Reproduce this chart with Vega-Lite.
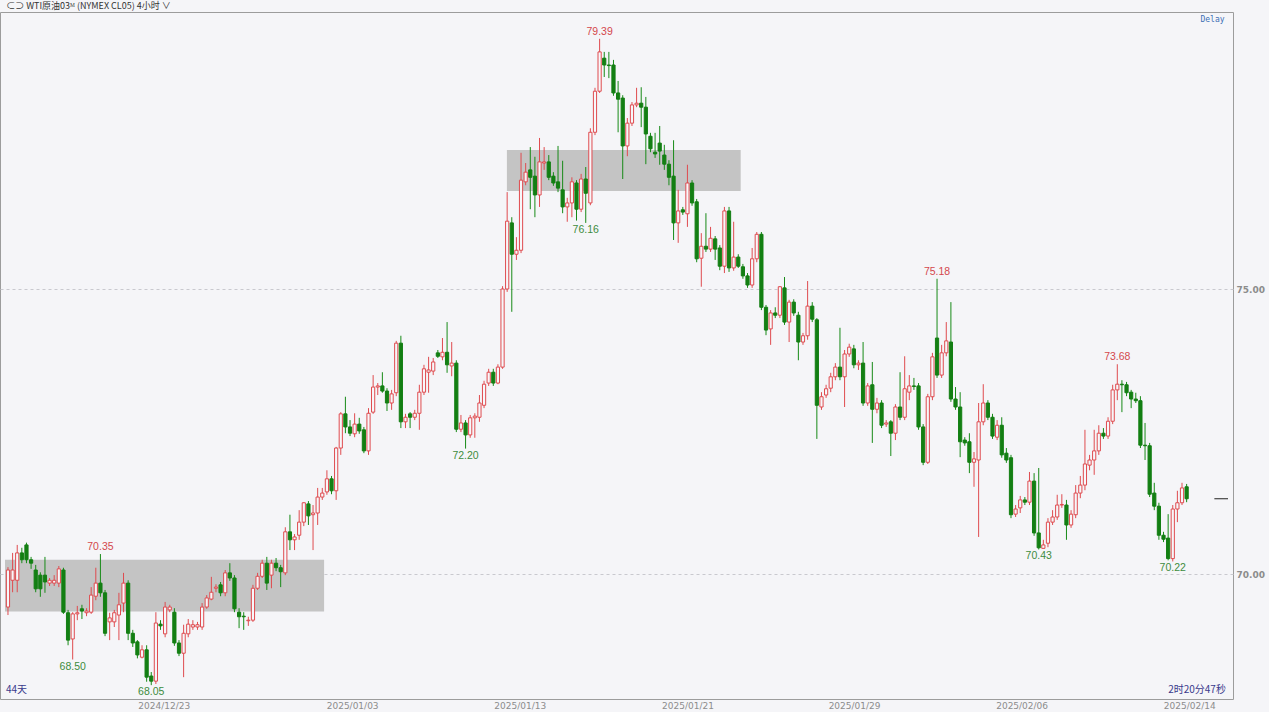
{
"$schema":"https://vega.github.io/schema/vega-lite/v6.json",
"width":1233,"height":687,
"autosize":{"type":"none"},
"padding":{"left":0,"top":12,"right":36,"bottom":13},
"background":"#f5f5f8",
"config":{"view":{"stroke":"#9c9c9c","strokeWidth":1},"font":"Liberation Sans"},
"datasets":{
"k":[
{"i":1,"o":69.42,"h":70.12,"l":69.28,"c":70.07},
{"i":2,"o":69.89,"h":70.37,"l":69.68,"c":70.07},
{"i":3,"o":69.89,"h":70.51,"l":69.68,"c":70.37},
{"i":4,"o":70.37,"h":70.46,"l":70.19,"c":70.25},
{"i":5,"o":70.51,"h":70.55,"l":70.19,"c":70.25},
{"i":6,"o":70.25,"h":70.30,"l":70.09,"c":70.19},
{"i":7,"o":70.07,"h":70.16,"l":69.68,"c":69.74},
{"i":8,"o":69.98,"h":70.03,"l":69.60,"c":69.74},
{"i":9,"o":69.98,"h":70.30,"l":69.67,"c":69.86},
{"i":10,"o":69.84,"h":69.93,"l":69.79,"c":69.89},
{"i":11,"o":69.84,"h":69.98,"l":69.79,"c":69.89},
{"i":12,"o":69.84,"h":70.14,"l":69.77,"c":70.09},
{"i":13,"o":70.07,"h":70.11,"l":69.30,"c":69.33},
{"i":14,"o":69.32,"h":69.37,"l":68.75,"c":68.84},
{"i":15,"o":68.86,"h":69.33,"l":68.50,"c":69.30},
{"i":16,"o":69.30,"h":69.44,"l":69.19,"c":69.32},
{"i":17,"o":69.39,"h":69.46,"l":69.21,"c":69.35},
{"i":18,"o":69.32,"h":69.40,"l":69.26,"c":69.35},
{"i":19,"o":69.33,"h":69.77,"l":69.30,"c":69.63},
{"i":20,"o":69.61,"h":70.11,"l":69.54,"c":69.84},
{"i":21,"o":69.84,"h":70.35,"l":69.60,"c":69.67},
{"i":22,"o":69.67,"h":69.72,"l":68.91,"c":68.96},
{"i":23,"o":69.16,"h":69.32,"l":68.84,"c":69.23},
{"i":24,"o":69.16,"h":69.37,"l":69.07,"c":69.32},
{"i":25,"o":69.28,"h":69.67,"l":68.84,"c":69.46},
{"i":26,"o":69.49,"h":70.02,"l":69.33,"c":69.84},
{"i":27,"o":69.84,"h":69.89,"l":68.84,"c":68.96},
{"i":28,"o":68.96,"h":69.02,"l":68.72,"c":68.79},
{"i":29,"o":68.81,"h":68.84,"l":68.52,"c":68.58},
{"i":30,"o":68.54,"h":68.75,"l":68.52,"c":68.67},
{"i":31,"o":68.67,"h":68.75,"l":68.11,"c":68.19},
{"i":32,"o":68.21,"h":68.28,"l":68.05,"c":68.12},
{"i":33,"o":68.12,"h":69.33,"l":68.07,"c":69.14},
{"i":34,"o":69.12,"h":69.19,"l":69.02,"c":69.09},
{"i":35,"o":68.95,"h":69.51,"l":68.89,"c":69.42},
{"i":36,"o":69.37,"h":69.46,"l":69.33,"c":69.42},
{"i":37,"o":69.33,"h":69.40,"l":68.74,"c":68.79},
{"i":38,"o":68.79,"h":68.84,"l":68.56,"c":68.61},
{"i":39,"o":68.61,"h":69.11,"l":68.19,"c":68.96},
{"i":40,"o":68.95,"h":69.21,"l":68.89,"c":69.12},
{"i":41,"o":69.07,"h":69.19,"l":69.02,"c":69.11},
{"i":42,"o":69.07,"h":69.16,"l":69.02,"c":69.11},
{"i":43,"o":69.07,"h":69.49,"l":69.02,"c":69.42},
{"i":44,"o":69.42,"h":69.63,"l":69.39,"c":69.58},
{"i":45,"o":69.56,"h":69.95,"l":69.54,"c":69.68},
{"i":46,"o":69.75,"h":69.82,"l":69.68,"c":69.77},
{"i":47,"o":69.81,"h":69.86,"l":69.61,"c":69.67},
{"i":48,"o":69.67,"h":70.07,"l":69.61,"c":70.02},
{"i":49,"o":70.02,"h":70.19,"l":69.88,"c":69.93},
{"i":50,"o":69.93,"h":69.98,"l":69.33,"c":69.39},
{"i":51,"o":69.33,"h":69.40,"l":69.05,"c":69.25},
{"i":52,"o":69.26,"h":69.33,"l":69.02,"c":69.25},
{"i":53,"o":69.18,"h":69.25,"l":69.09,"c":69.19},
{"i":54,"o":69.19,"h":69.81,"l":69.16,"c":69.75},
{"i":55,"o":69.75,"h":70.02,"l":69.72,"c":69.96},
{"i":56,"o":69.96,"h":70.25,"l":69.93,"c":70.19},
{"i":57,"o":70.19,"h":70.30,"l":69.72,"c":69.84},
{"i":58,"o":69.98,"h":70.25,"l":69.75,"c":70.19},
{"i":59,"o":70.19,"h":70.28,"l":70.05,"c":70.11},
{"i":60,"o":70.11,"h":70.16,"l":69.77,"c":70.04},
{"i":61,"o":70.02,"h":70.82,"l":69.98,"c":70.74},
{"i":62,"o":70.74,"h":71.04,"l":70.42,"c":70.60},
{"i":63,"o":70.60,"h":70.70,"l":70.42,"c":70.65},
{"i":64,"o":70.68,"h":71.12,"l":70.60,"c":70.91},
{"i":65,"o":70.91,"h":71.26,"l":70.84,"c":71.25},
{"i":66,"o":71.23,"h":71.28,"l":70.86,"c":71.02},
{"i":67,"o":71.04,"h":71.21,"l":70.42,"c":71.07},
{"i":68,"o":71.07,"h":71.51,"l":70.86,"c":71.35},
{"i":69,"o":71.35,"h":71.51,"l":71.30,"c":71.42},
{"i":70,"o":71.44,"h":71.82,"l":71.39,"c":71.67},
{"i":71,"o":71.67,"h":71.72,"l":71.40,"c":71.46},
{"i":72,"o":71.46,"h":72.23,"l":71.30,"c":72.21},
{"i":73,"o":72.21,"h":72.84,"l":72.09,"c":72.81},
{"i":74,"o":72.81,"h":73.11,"l":72.47,"c":72.58},
{"i":75,"o":72.58,"h":72.70,"l":72.42,"c":72.47},
{"i":76,"o":72.46,"h":72.82,"l":72.40,"c":72.63},
{"i":77,"o":72.63,"h":72.74,"l":72.46,"c":72.51},
{"i":78,"o":72.53,"h":72.58,"l":72.12,"c":72.16},
{"i":79,"o":72.16,"h":72.91,"l":72.09,"c":72.82},
{"i":80,"o":72.84,"h":73.49,"l":72.81,"c":73.28},
{"i":81,"o":73.28,"h":73.35,"l":73.14,"c":73.30},
{"i":82,"o":73.30,"h":73.54,"l":73.18,"c":73.21},
{"i":83,"o":73.21,"h":73.26,"l":72.86,"c":73.00},
{"i":84,"o":73.00,"h":73.23,"l":72.88,"c":73.16},
{"i":85,"o":73.18,"h":74.09,"l":73.12,"c":74.05},
{"i":86,"o":74.05,"h":74.18,"l":72.56,"c":72.67},
{"i":87,"o":72.67,"h":72.81,"l":72.56,"c":72.75},
{"i":88,"o":72.81,"h":72.84,"l":72.56,"c":72.75},
{"i":89,"o":72.75,"h":72.88,"l":72.70,"c":72.82},
{"i":90,"o":72.82,"h":73.32,"l":72.53,"c":73.19},
{"i":91,"o":73.19,"h":73.67,"l":73.14,"c":73.60},
{"i":92,"o":73.54,"h":73.81,"l":73.18,"c":73.58},
{"i":93,"o":73.56,"h":73.79,"l":73.49,"c":73.72},
{"i":94,"o":73.88,"h":73.93,"l":73.79,"c":73.82},
{"i":95,"o":73.81,"h":74.14,"l":73.75,"c":73.89},
{"i":96,"o":73.89,"h":74.42,"l":73.53,"c":73.67},
{"i":97,"o":73.65,"h":74.07,"l":73.47,"c":73.70},
{"i":98,"o":73.70,"h":73.75,"l":72.49,"c":72.54},
{"i":99,"o":72.54,"h":72.79,"l":72.49,"c":72.65},
{"i":100,"o":72.65,"h":72.70,"l":72.20,"c":72.44},
{"i":101,"o":72.44,"h":72.79,"l":72.39,"c":72.74},
{"i":102,"o":72.74,"h":72.82,"l":72.39,"c":72.77},
{"i":103,"o":72.75,"h":73.14,"l":72.67,"c":73.00},
{"i":104,"o":72.96,"h":73.39,"l":72.91,"c":73.33},
{"i":105,"o":73.35,"h":73.60,"l":73.30,"c":73.54},
{"i":106,"o":73.54,"h":73.60,"l":73.30,"c":73.35},
{"i":107,"o":73.35,"h":73.68,"l":73.33,"c":73.63},
{"i":108,"o":73.63,"h":75.05,"l":73.60,"c":75.00},
{"i":109,"o":75.00,"h":76.70,"l":74.95,"c":76.19},
{"i":110,"o":76.16,"h":76.26,"l":74.60,"c":75.61},
{"i":111,"o":75.61,"h":75.91,"l":75.51,"c":75.68},
{"i":112,"o":75.68,"h":77.39,"l":75.63,"c":76.91},
{"i":113,"o":76.88,"h":77.21,"l":76.82,"c":77.05},
{"i":114,"o":77.09,"h":77.49,"l":76.40,"c":76.96},
{"i":115,"o":76.98,"h":77.32,"l":76.26,"c":76.65},
{"i":116,"o":76.65,"h":77.65,"l":76.44,"c":77.23},
{"i":117,"o":77.21,"h":77.49,"l":77.09,"c":77.23},
{"i":118,"o":77.23,"h":77.35,"l":76.91,"c":76.96},
{"i":119,"o":76.98,"h":77.05,"l":76.81,"c":76.86},
{"i":120,"o":76.88,"h":77.51,"l":76.70,"c":76.77},
{"i":121,"o":76.74,"h":77.25,"l":76.33,"c":76.44},
{"i":122,"o":76.44,"h":76.60,"l":76.18,"c":76.51},
{"i":123,"o":76.51,"h":76.96,"l":76.26,"c":76.88},
{"i":124,"o":76.86,"h":76.91,"l":76.20,"c":76.40},
{"i":125,"o":76.40,"h":77.02,"l":76.35,"c":76.93},
{"i":126,"o":76.93,"h":77.14,"l":76.16,"c":76.68},
{"i":127,"o":76.51,"h":77.82,"l":76.47,"c":77.75},
{"i":128,"o":77.75,"h":78.53,"l":77.70,"c":78.47},
{"i":129,"o":78.47,"h":79.39,"l":78.44,"c":79.16},
{"i":130,"o":79.05,"h":79.16,"l":78.72,"c":78.93},
{"i":131,"o":78.93,"h":79.16,"l":78.70,"c":78.92},
{"i":132,"o":78.93,"h":79.02,"l":78.39,"c":78.44},
{"i":133,"o":78.44,"h":78.65,"l":77.75,"c":78.33},
{"i":134,"o":78.35,"h":78.40,"l":76.93,"c":77.51},
{"i":135,"o":77.51,"h":78.00,"l":77.33,"c":77.91},
{"i":136,"o":77.91,"h":78.28,"l":77.86,"c":78.23},
{"i":137,"o":78.23,"h":78.53,"l":78.19,"c":78.26},
{"i":138,"o":78.26,"h":78.54,"l":77.84,"c":78.19},
{"i":139,"o":78.19,"h":78.37,"l":77.19,"c":77.72},
{"i":140,"o":77.68,"h":77.74,"l":77.40,"c":77.46},
{"i":141,"o":77.40,"h":77.74,"l":77.30,"c":77.37},
{"i":142,"o":77.56,"h":77.86,"l":77.18,"c":77.42},
{"i":143,"o":77.35,"h":77.53,"l":77.09,"c":77.19},
{"i":144,"o":77.19,"h":77.26,"l":76.82,"c":76.96},
{"i":145,"o":76.98,"h":77.61,"l":75.86,"c":76.16},
{"i":146,"o":76.16,"h":76.74,"l":75.81,"c":76.37},
{"i":147,"o":76.39,"h":76.44,"l":76.30,"c":76.35},
{"i":148,"o":76.32,"h":77.18,"l":76.09,"c":76.86},
{"i":149,"o":76.86,"h":76.91,"l":76.46,"c":76.51},
{"i":150,"o":76.53,"h":76.58,"l":75.47,"c":75.53},
{"i":151,"o":75.54,"h":75.98,"l":75.04,"c":75.75},
{"i":152,"o":75.75,"h":76.33,"l":75.65,"c":75.70},
{"i":153,"o":75.70,"h":76.09,"l":75.65,"c":75.89},
{"i":154,"o":75.88,"h":75.93,"l":75.51,"c":75.70},
{"i":155,"o":75.72,"h":75.77,"l":75.33,"c":75.40},
{"i":156,"o":75.40,"h":76.44,"l":75.28,"c":76.37},
{"i":157,"o":76.37,"h":76.44,"l":75.30,"c":75.37},
{"i":158,"o":75.37,"h":76.18,"l":75.32,"c":75.56},
{"i":159,"o":75.56,"h":75.61,"l":75.37,"c":75.40},
{"i":160,"o":75.39,"h":75.44,"l":75.18,"c":75.23},
{"i":161,"o":75.23,"h":75.28,"l":75.02,"c":75.07},
{"i":162,"o":75.07,"h":75.72,"l":75.02,"c":75.53},
{"i":163,"o":75.53,"h":76.00,"l":75.47,"c":75.96},
{"i":164,"o":75.96,"h":76.00,"l":74.63,"c":74.68},
{"i":165,"o":74.68,"h":74.72,"l":74.19,"c":74.28},
{"i":166,"o":74.30,"h":74.63,"l":74.02,"c":74.58},
{"i":167,"o":74.58,"h":74.68,"l":74.49,"c":74.54},
{"i":168,"o":74.54,"h":75.05,"l":74.49,"c":75.04},
{"i":169,"o":75.02,"h":75.21,"l":74.37,"c":74.42},
{"i":170,"o":74.42,"h":74.81,"l":74.07,"c":74.77},
{"i":171,"o":74.77,"h":74.82,"l":74.53,"c":74.58},
{"i":172,"o":74.54,"h":74.60,"l":73.75,"c":74.07},
{"i":173,"o":74.07,"h":74.23,"l":74.02,"c":74.18},
{"i":174,"o":74.18,"h":75.14,"l":74.11,"c":74.70},
{"i":175,"o":74.70,"h":74.77,"l":74.42,"c":74.47},
{"i":176,"o":74.46,"h":74.49,"l":72.37,"c":72.96},
{"i":177,"o":72.93,"h":73.19,"l":72.88,"c":73.11},
{"i":178,"o":73.14,"h":73.32,"l":73.09,"c":73.25},
{"i":179,"o":73.26,"h":73.53,"l":73.19,"c":73.46},
{"i":180,"o":73.46,"h":73.70,"l":73.40,"c":73.63},
{"i":181,"o":73.63,"h":74.32,"l":73.40,"c":73.46},
{"i":182,"o":73.46,"h":73.93,"l":72.93,"c":73.86},
{"i":183,"o":73.86,"h":74.04,"l":73.81,"c":73.98},
{"i":184,"o":73.95,"h":74.02,"l":73.61,"c":73.67},
{"i":185,"o":73.67,"h":73.75,"l":73.58,"c":73.70},
{"i":186,"o":73.70,"h":74.07,"l":72.95,"c":73.00},
{"i":187,"o":73.00,"h":73.35,"l":72.95,"c":73.30},
{"i":188,"o":73.32,"h":73.72,"l":72.30,"c":72.89},
{"i":189,"o":72.89,"h":73.09,"l":72.82,"c":73.00},
{"i":190,"o":73.00,"h":73.05,"l":72.56,"c":72.61},
{"i":191,"o":72.63,"h":72.70,"l":72.58,"c":72.65},
{"i":192,"o":72.67,"h":72.70,"l":72.07,"c":72.47},
{"i":193,"o":72.47,"h":72.98,"l":72.35,"c":72.93},
{"i":194,"o":72.93,"h":73.54,"l":72.70,"c":72.75},
{"i":195,"o":72.75,"h":73.82,"l":72.70,"c":73.25},
{"i":196,"o":73.19,"h":73.49,"l":73.05,"c":73.30},
{"i":197,"o":73.30,"h":73.44,"l":73.23,"c":73.29},
{"i":198,"o":73.30,"h":73.35,"l":72.53,"c":72.58},
{"i":199,"o":72.58,"h":72.63,"l":71.91,"c":71.96},
{"i":200,"o":71.96,"h":73.16,"l":71.93,"c":73.11},
{"i":201,"o":73.11,"h":73.88,"l":73.05,"c":73.81},
{"i":202,"o":74.14,"h":75.18,"l":73.44,"c":73.49},
{"i":203,"o":73.49,"h":74.02,"l":73.44,"c":73.88},
{"i":204,"o":73.88,"h":74.42,"l":73.82,"c":74.09},
{"i":205,"o":74.07,"h":74.77,"l":73.02,"c":73.07},
{"i":206,"o":73.07,"h":73.28,"l":72.88,"c":72.93},
{"i":207,"o":72.93,"h":73.19,"l":72.05,"c":72.32},
{"i":208,"o":72.35,"h":72.40,"l":72.25,"c":72.30},
{"i":209,"o":72.32,"h":72.47,"l":71.77,"c":71.96},
{"i":210,"o":71.96,"h":72.14,"l":71.53,"c":72.02},
{"i":211,"o":72.00,"h":73.00,"l":70.65,"c":72.67},
{"i":212,"o":72.67,"h":73.33,"l":72.61,"c":73.00},
{"i":213,"o":73.00,"h":73.05,"l":72.70,"c":72.75},
{"i":214,"o":72.75,"h":72.81,"l":72.37,"c":72.42},
{"i":215,"o":72.40,"h":72.70,"l":72.35,"c":72.61},
{"i":216,"o":72.61,"h":72.75,"l":72.04,"c":72.09},
{"i":217,"o":72.12,"h":72.21,"l":71.95,"c":72.00},
{"i":218,"o":72.04,"h":72.09,"l":70.98,"c":71.04},
{"i":219,"o":71.05,"h":71.21,"l":71.00,"c":71.14},
{"i":220,"o":71.16,"h":71.37,"l":71.07,"c":71.30},
{"i":221,"o":71.30,"h":71.35,"l":71.21,"c":71.26},
{"i":222,"o":71.26,"h":71.79,"l":71.21,"c":71.63},
{"i":223,"o":71.63,"h":71.77,"l":70.67,"c":70.72},
{"i":224,"o":70.72,"h":71.86,"l":70.43,"c":70.46},
{"i":225,"o":70.45,"h":70.60,"l":70.45,"c":70.51},
{"i":226,"o":70.54,"h":70.98,"l":70.47,"c":70.91},
{"i":227,"o":70.91,"h":71.12,"l":70.86,"c":71.00},
{"i":228,"o":71.00,"h":71.39,"l":70.95,"c":71.21},
{"i":229,"o":71.21,"h":71.40,"l":71.16,"c":71.22},
{"i":230,"o":71.21,"h":71.30,"l":70.60,"c":70.86},
{"i":231,"o":70.86,"h":71.12,"l":70.81,"c":71.05},
{"i":232,"o":71.04,"h":71.56,"l":70.98,"c":71.42},
{"i":233,"o":71.42,"h":71.72,"l":71.33,"c":71.56},
{"i":234,"o":71.56,"h":72.53,"l":71.47,"c":71.93},
{"i":235,"o":71.91,"h":72.09,"l":71.82,"c":72.00},
{"i":236,"o":72.00,"h":72.53,"l":71.74,"c":72.16},
{"i":237,"o":72.16,"h":72.61,"l":72.09,"c":72.47},
{"i":238,"o":72.47,"h":72.56,"l":72.37,"c":72.42},
{"i":239,"o":72.42,"h":72.75,"l":72.37,"c":72.68},
{"i":240,"o":72.68,"h":73.32,"l":72.63,"c":73.23},
{"i":241,"o":73.23,"h":73.68,"l":73.05,"c":73.33},
{"i":242,"o":73.33,"h":73.40,"l":72.84,"c":73.32},
{"i":243,"o":73.32,"h":73.37,"l":73.12,"c":73.18},
{"i":244,"o":73.19,"h":73.23,"l":72.91,"c":73.07},
{"i":245,"o":73.07,"h":73.18,"l":73.00,"c":73.04},
{"i":246,"o":73.04,"h":73.12,"l":72.21,"c":72.26},
{"i":247,"o":72.26,"h":72.65,"l":72.00,"c":72.25},
{"i":248,"o":72.25,"h":72.30,"l":71.35,"c":71.40},
{"i":249,"o":71.42,"h":71.60,"l":71.12,"c":71.19},
{"i":250,"o":71.19,"h":71.25,"l":70.60,"c":70.68},
{"i":251,"o":70.68,"h":70.74,"l":70.56,"c":70.61},
{"i":252,"o":70.63,"h":71.05,"l":70.24,"c":70.27},
{"i":253,"o":70.27,"h":71.21,"l":70.22,"c":71.14},
{"i":254,"o":71.14,"h":71.46,"l":70.91,"c":71.25},
{"i":255,"o":71.25,"h":71.60,"l":71.21,"c":71.51},
{"i":256,"o":71.53,"h":71.58,"l":71.26,"c":71.32}
],
"boxes":[
{"x1":0.356,"x2":69.39,"y1":69.34,"y2":70.25},
{"x1":108.94,"x2":159.52,"y1":76.72,"y2":77.44}
],
"marks":[
{"i":21,"p":70.35,"t":"70.35","k":"h"},
{"i":15,"p":68.50,"t":"68.50","k":"l"},
{"i":32,"p":68.05,"t":"68.05","k":"l"},
{"i":100,"p":72.20,"t":"72.20","k":"l"},
{"i":126,"p":76.16,"t":"76.16","k":"l"},
{"i":129,"p":79.39,"t":"79.39","k":"h"},
{"i":202,"p":75.18,"t":"75.18","k":"h"},
{"i":224,"p":70.43,"t":"70.43","k":"l"},
{"i":241,"p":73.68,"t":"73.68","k":"h"},
{"i":253,"p":70.22,"t":"70.22","k":"l"}
]
},
"layer":[
{"data":{"name":"boxes"},"mark":{"type":"rect","fill":"#c4c4c4"},
 "encoding":{
  "x":{"field":"x1","type":"quantitative","scale":{"domain":[0.356,264.95],"nice":false,"zero":false},
   "axis":{"orient":"bottom","values":[34.69,75.46,111.73,148.0,184.05,220.3,256.58],
    "labelExpr":"datum.value<50?'2024/12/23':datum.value<90?'2025/01/03':datum.value<130?'2025/01/13':datum.value<160?'2025/01/21':datum.value<200?'2025/01/29':datum.value<240?'2025/02/06':'2025/02/14'",
    "domain":false,"ticks":false,"grid":false,"title":null,"labelPadding":2,"labelFontSize":9,"labelFont":"DejaVu Sans","labelColor":"#8c8c8c","labelOverlap":false,"labelFlush":false}},
  "x2":{"field":"x2"},
  "y":{"field":"y1","type":"quantitative","scale":{"domain":[67.807,79.86],"nice":false,"zero":false},
   "axis":{"orient":"right","values":[70,75],"format":".2f","domain":false,"ticks":false,"grid":true,"gridDash":[3,3],"gridColor":"#c9c9cf","title":null,"labelPadding":3,"labelFontSize":9,"labelFont":"DejaVu Sans","labelColor":"#8c8c8c","labelFontWeight":"bold"}},
  "y2":{"field":"y2"}
 }},
{"data":{"name":"k"},"mark":{"type":"rule","strokeWidth":1},
 "encoding":{
  "x":{"field":"i","type":"quantitative","scale":{"domain":[0.356,264.95],"nice":false,"zero":false}},
  "y":{"field":"l","type":"quantitative","scale":{"domain":[67.807,79.86],"nice":false,"zero":false}},
  "y2":{"field":"h"},
  "color":{"condition":{"test":"datum.c>=datum.o","value":"#df4b4f"},"value":"#178a17"}
 }},
{"data":{"name":"k"},"mark":{"type":"bar","size":3.2,"strokeWidth":1},
 "encoding":{
  "x":{"field":"i","type":"quantitative","scale":{"domain":[0.356,264.95],"nice":false,"zero":false}},
  "y":{"field":"o","type":"quantitative","scale":{"domain":[67.807,79.86],"nice":false,"zero":false}},
  "y2":{"field":"c"},
  "fill":{"condition":{"test":"datum.c>=datum.o","value":"#f7f7fa"},"value":"#137f13"},
  "stroke":{"condition":{"test":"datum.c>=datum.o","value":"#df4b4f"},"value":"#137f13"}
 }},
{"data":{"name":"marks"},"transform":[{"filter":"datum.k=='h'"}],
 "mark":{"type":"text","baseline":"bottom","dy":-2,"fontSize":10.5,"font":"Liberation Sans","color":"#d4474c"},
 "encoding":{
  "x":{"field":"i","type":"quantitative","scale":{"domain":[0.356,264.95],"nice":false,"zero":false}},
  "y":{"field":"p","type":"quantitative","scale":{"domain":[67.807,79.86],"nice":false,"zero":false}},
  "text":{"field":"t"}
 }},
{"data":{"name":"marks"},"transform":[{"filter":"datum.k=='l'"}],
 "mark":{"type":"text","baseline":"top","dy":2,"fontSize":10.5,"font":"Liberation Sans","color":"#3d8c3d"},
 "encoding":{
  "x":{"field":"i","type":"quantitative","scale":{"domain":[0.356,264.95],"nice":false,"zero":false}},
  "y":{"field":"p","type":"quantitative","scale":{"domain":[67.807,79.86],"nice":false,"zero":false}},
  "text":{"field":"t"}
 }},
{"data":{"values":[{"a":262.0,"b":264.95,"p":71.32}]},"mark":{"type":"rule","color":"#222222","strokeWidth":1},
 "encoding":{
  "x":{"field":"a","type":"quantitative","scale":{"domain":[0.356,264.95],"nice":false,"zero":false}},
  "x2":{"field":"b"},
  "y":{"field":"p","type":"quantitative","scale":{"domain":[67.807,79.86],"nice":false,"zero":false}}
 }},
{"data":{"values":[{"x":264.2,"y":79.72,"t":"Delay"}]},"mark":{"type":"text","align":"right","baseline":"middle","fontSize":8,"font":"DejaVu Sans Mono","color":"#3b6fb5"},
 "encoding":{
  "x":{"field":"x","type":"quantitative","scale":{"domain":[0.356,264.95],"nice":false,"zero":false}},
  "y":{"field":"y","type":"quantitative","scale":{"domain":[67.807,79.86],"nice":false,"zero":false}},
  "text":{"field":"t"}
 }},
{"data":{"values":[{"x":0.6,"y":79.965,"t":"⊂⊃ WTI原油03ᴹ (NYMEX CL05)   4小时 ∨"}]},"mark":{"type":"text","align":"left","baseline":"middle","fontSize":9,"font":"Noto Sans CJK SC","color":"#333333"},
 "encoding":{
  "x":{"field":"x","type":"quantitative","scale":{"domain":[0.356,264.95],"nice":false,"zero":false}},
  "y":{"field":"y","type":"quantitative","scale":{"domain":[67.807,79.86],"nice":false,"zero":false}},
  "text":{"field":"t"}
 }},
{"data":{"values":[{"x":0.57,"y":67.97,"t":"44天"}]},"mark":{"type":"text","align":"left","baseline":"middle","fontSize":10,"font":"Noto Sans CJK SC","color":"#3a3a8c"},
 "encoding":{
  "x":{"field":"x","type":"quantitative","scale":{"domain":[0.356,264.95],"nice":false,"zero":false}},
  "y":{"field":"y","type":"quantitative","scale":{"domain":[67.807,79.86],"nice":false,"zero":false}},
  "text":{"field":"t"}
 }},
{"data":{"values":[{"x":264.5,"y":67.97,"t":"2时20分47秒"}]},"mark":{"type":"text","align":"right","baseline":"middle","fontSize":10,"font":"Noto Sans CJK SC","color":"#3a3a8c"},
 "encoding":{
  "x":{"field":"x","type":"quantitative","scale":{"domain":[0.356,264.95],"nice":false,"zero":false}},
  "y":{"field":"y","type":"quantitative","scale":{"domain":[67.807,79.86],"nice":false,"zero":false}},
  "text":{"field":"t"}
 }}
]
}
